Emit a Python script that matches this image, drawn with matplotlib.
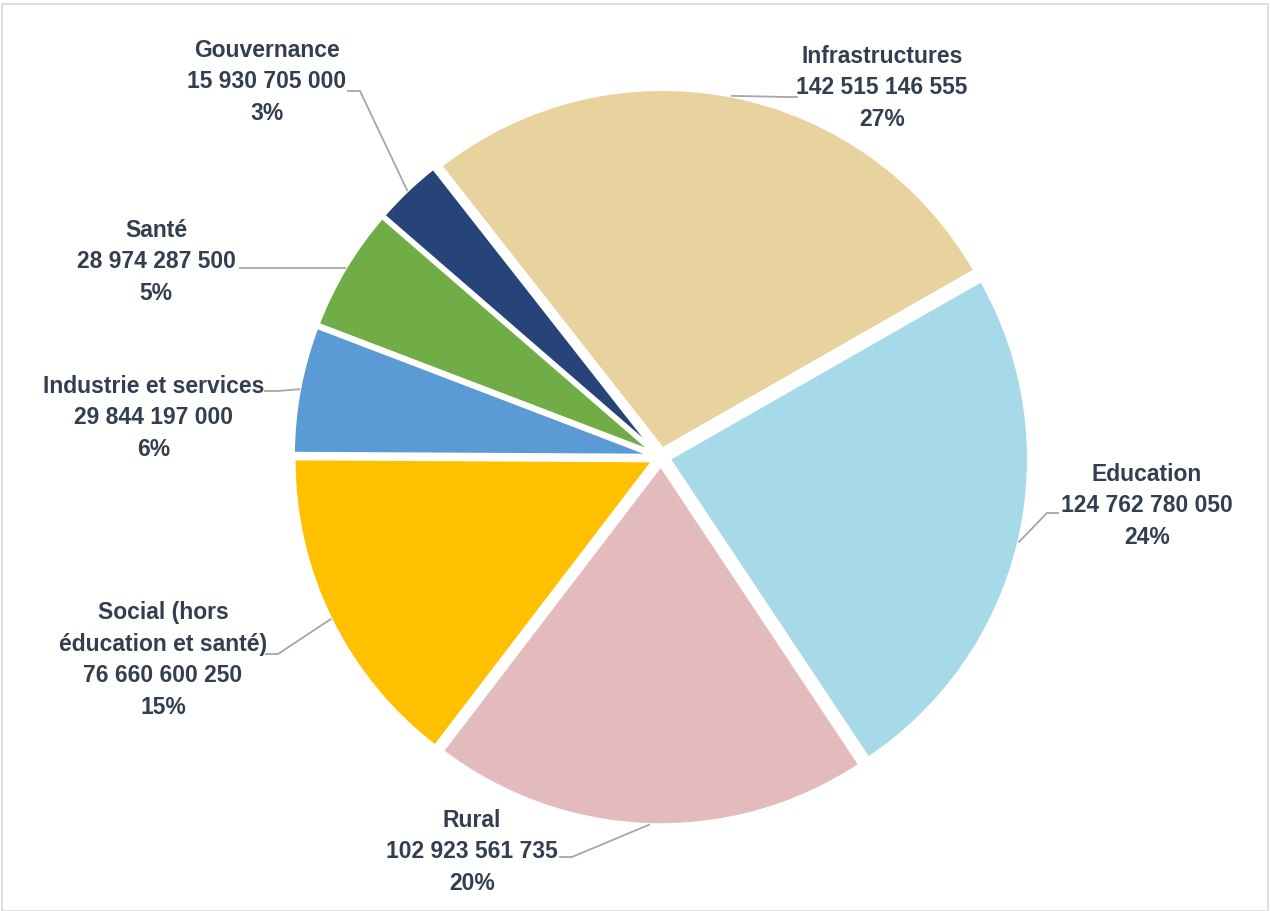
import numpy as np
import matplotlib
matplotlib.use("Agg")
import matplotlib.pyplot as plt
from matplotlib.patches import Rectangle

# data
categories = ["Infrastructures", "Education", "Rural", "Social (hors\néducation et santé)",
              "Industrie et services", "Santé", "Gouvernance"]
values = [142515146555, 124762780050, 102923561735, 76660600250,
          29844197000, 28974287500, 15930705000]
pct_labels = ["27%", "24%", "20%", "15%", "6%", "5%", "3%"]
colors = ["#E8D39E", "#A6DAE9", "#E3BBBD", "#FFC000", "#5B9BD5", "#70AD47", "#264478"]

plt.rcParams['font.family'] = ['Liberation Sans', 'DejaVu Sans']

W, H = 1270, 911
fig = plt.figure(figsize=(W / 100, H / 100), dpi=100)
ax = fig.add_axes([0, 0, 1, 1])

cx, cy, R = 661, H - 457, 360
expl = 8  # pixels, pie explode is absolute
wedges, _ = ax.pie(values, colors=colors, startangle=128.1, counterclock=False,
                   center=(cx, cy), radius=R, explode=[expl] * len(values),
                   wedgeprops=dict(edgecolor="white", linewidth=2.6))
ax.set_xlim(0, W)
ax.set_ylim(0, H)
ax.set_aspect("equal")
ax.axis("off")

def fmt(v):
    return f"{v:,}".replace(",", " ")

# label block centres and leader anchor (x, y from top), stub length
label_pos = [(882, 88), (1147, 506), (472, 852), (163, 660), (154, 418), (156, 262), (267, 82)]
anchors = [(797, 97, -10), (1058, 513, -11), (560, 857, 12), (266, 654, 12),
           (265, 391, 12), (240, 268, 12), (348, 91, 12)]

txt_col = "#333F50"
for w, name, v, p, (lx, ly), (ax0, ay0, st) in zip(wedges, categories, values, pct_labels,
                                                    label_pos, anchors):
    mid = np.deg2rad((w.theta1 + w.theta2) / 2)
    ccx, ccy = w.center
    tx = ccx + R * np.cos(mid)
    ty = ccy + R * np.sin(mid)
    ax.text(lx, H - ly, f"{name}\n{fmt(v)}\n{p}", ha="center", va="center",
            fontsize=16.5, fontweight="bold", color=txt_col, linespacing=1.47)
    ax.plot([ax0, ax0 + st, tx], [H - ay0, H - ay0, ty], color="#A6A6A6", lw=1.3,
            solid_joinstyle="miter")

fig.patches.append(Rectangle((2 / W, 0), (W - 4) / W, (H - 4) / H, transform=fig.transFigure,
                             fill=False, edgecolor="#D9D9D9", lw=1.2))

fig.savefig("out.png", dpi=100)
